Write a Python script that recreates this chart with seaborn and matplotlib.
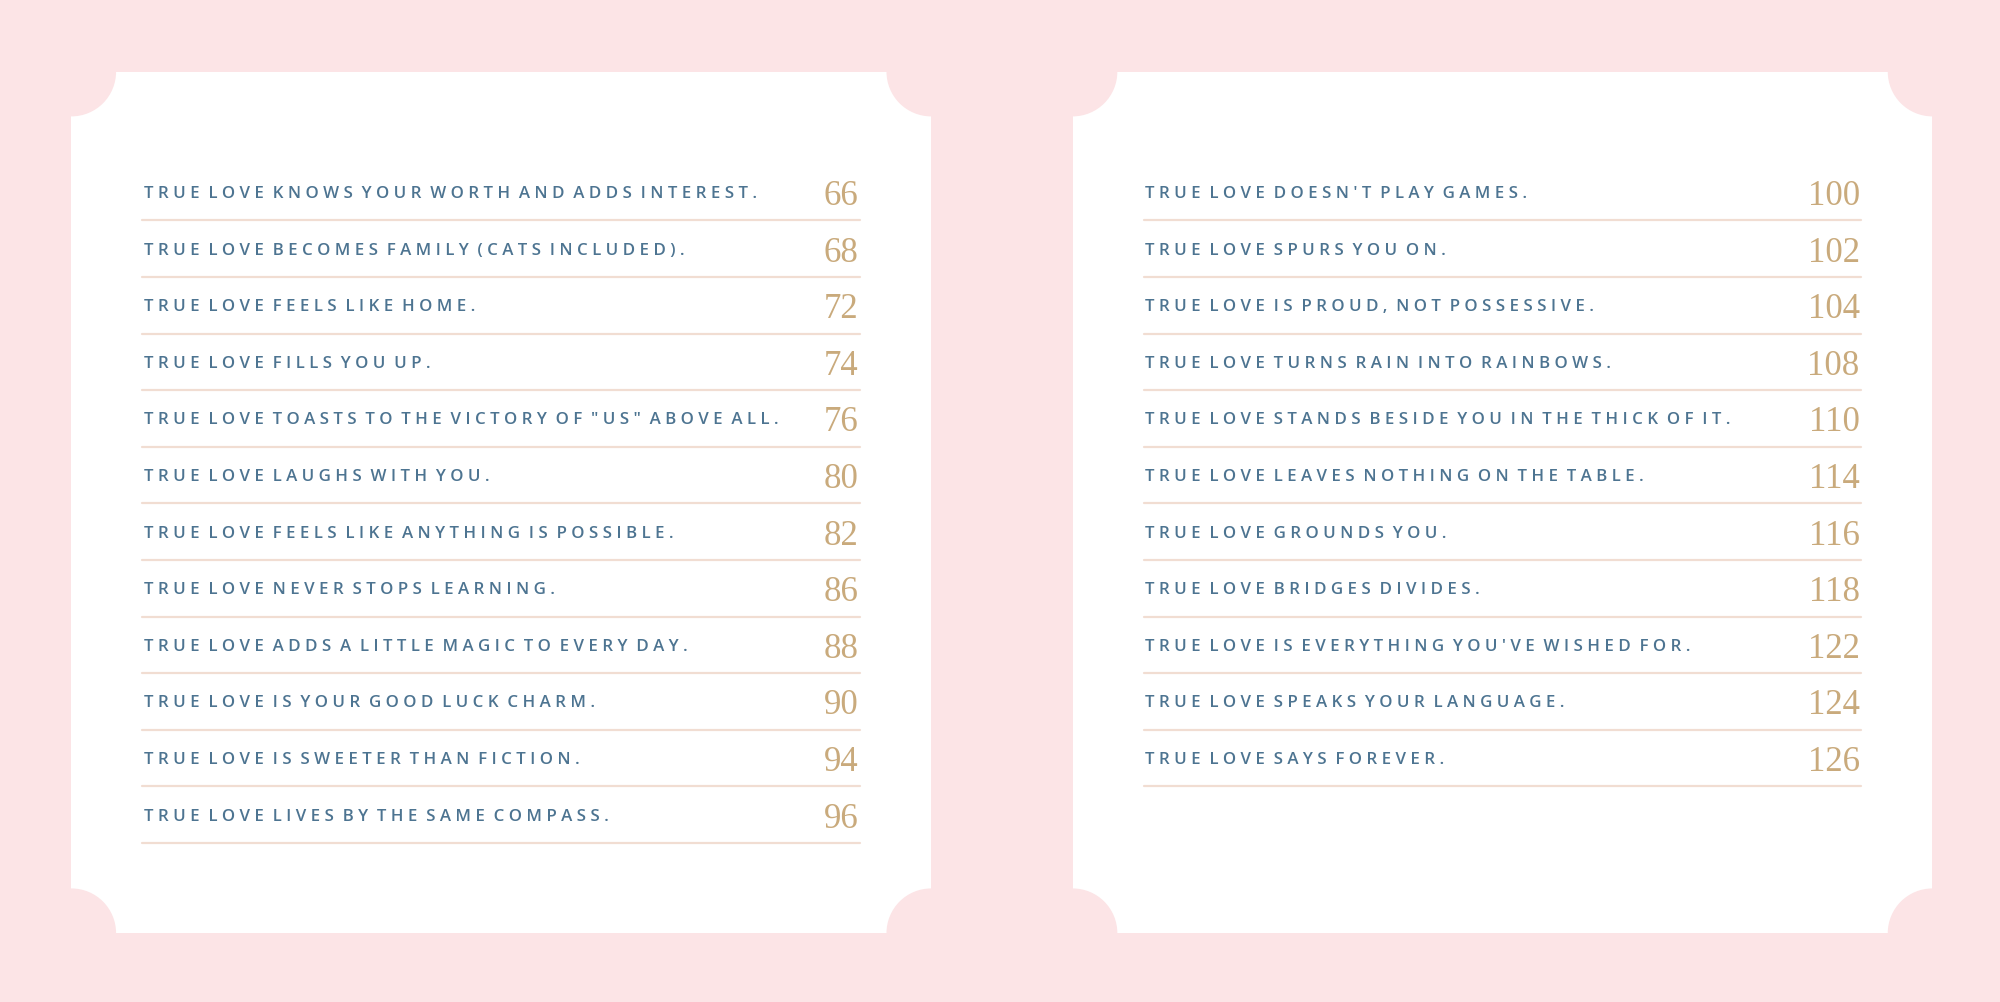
import matplotlib
matplotlib.use("Agg")
import matplotlib.pyplot as plt
import seaborn as sns
from matplotlib.patches import Rectangle, Circle

left_titles = ["TRUE LOVE KNOWS YOUR WORTH AND ADDS INTEREST.",
 "TRUE LOVE BECOMES FAMILY (CATS INCLUDED).",
 "TRUE LOVE FEELS LIKE HOME.",
 "TRUE LOVE FILLS YOU UP.",
 "TRUE LOVE TOASTS TO THE VICTORY OF \"US\" ABOVE ALL.",
 "TRUE LOVE LAUGHS WITH YOU.",
 "TRUE LOVE FEELS LIKE ANYTHING IS POSSIBLE.",
 "TRUE LOVE NEVER STOPS LEARNING.",
 "TRUE LOVE ADDS A LITTLE MAGIC TO EVERY DAY.",
 "TRUE LOVE IS YOUR GOOD LUCK CHARM.",
 "TRUE LOVE IS SWEETER THAN FICTION.",
 "TRUE LOVE LIVES BY THE SAME COMPASS."]
left_pages = [66, 68, 72, 74, 76, 80, 82, 86, 88, 90, 94, 96]
right_titles = ["TRUE LOVE DOESN'T PLAY GAMES.",
 "TRUE LOVE SPURS YOU ON.",
 "TRUE LOVE IS PROUD, NOT POSSESSIVE.",
 "TRUE LOVE TURNS RAIN INTO RAINBOWS.",
 "TRUE LOVE STANDS BESIDE YOU IN THE THICK OF IT.",
 "TRUE LOVE LEAVES NOTHING ON THE TABLE.",
 "TRUE LOVE GROUNDS YOU.",
 "TRUE LOVE BRIDGES DIVIDES.",
 "TRUE LOVE IS EVERYTHING YOU'VE WISHED FOR.",
 "TRUE LOVE SPEAKS YOUR LANGUAGE.",
 "TRUE LOVE SAYS FOREVER."]
right_pages = [100, 102, 104, 108, 110, 114, 116, 118, 122, 124, 126]

sns.set_theme(style="white")
PINK = "#fce4e6"
BLUE = "#4d7491"
GOLD = "#c9aa7c"
LINE = "#f1ddd2"

fig = plt.figure(figsize=(20, 10.03), dpi=100, facecolor=PINK)
ax = fig.add_axes([0, 0, 1, 1])
ax.set_facecolor(PINK)
ax.set_xlim(0, 1568)
ax.set_ylim(786, 0)
ax.axis("off")

def page(x0, x1, y0, y1):
    ax.add_patch(Rectangle((x0, y0), x1 - x0, y1 - y0, fc="white", ec="none", zorder=1))
    for cx in (x0, x1):
        for cy in (y0, y1):
            ax.add_patch(Circle((cx, cy), 35, fc=PINK, ec="none", zorder=2))

page(56, 730, 57, 732)
page(841, 1515, 57, 732)

def column(titles, pages, xt, xr, xl0, xl1):
    for i, (t, p) in enumerate(zip(titles, pages)):
        y = 152 + i * 44.35
        ax.text(xt, y, " ".join(t).replace("   ", "  "), color=BLUE, fontsize=12.2,
                family="Open Sans", weight="semibold", va="center", ha="left", zorder=3)
        ax.text(xr, y + 2, str(p), color=GOLD, fontsize=25, family="Liberation Serif",
                va="center", ha="right", zorder=3)
        ax.plot([xl0, xl1], [y + 21.5, y + 21.5], color=LINE, lw=1.6, zorder=3)

column(left_titles, left_pages, 113, 673, 111, 674)
column(right_titles, right_pages, 898, 1458, 897, 1459)

fig.savefig("out.png", dpi=100, facecolor=PINK)
